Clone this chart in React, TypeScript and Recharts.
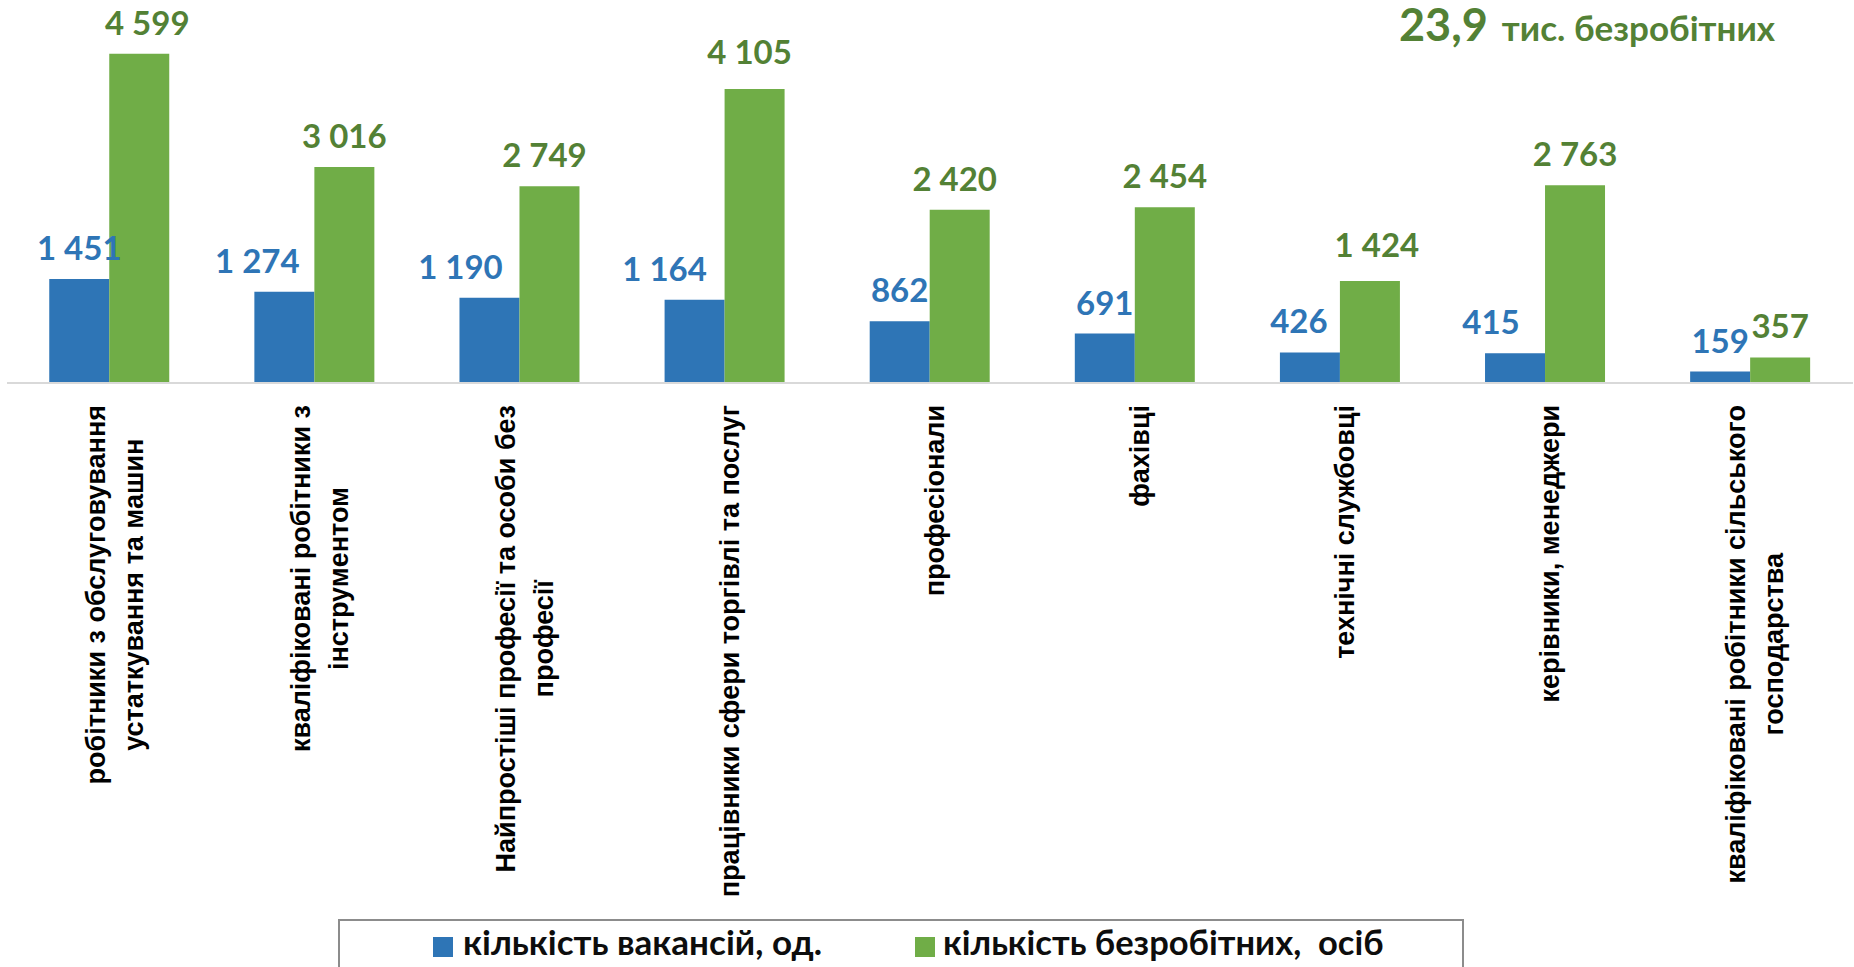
import React from "react";
import { Bar, BarChart, XAxis, YAxis } from "recharts";

// categories (line breaks as in the picture)
const categories = [
  "робітники з обслуговування\nустаткування та машин",
  "кваліфіковані робітники з\nінструментом",
  "Найпростіші професії та особи без\nпрофесії",
  "працівники сфери торгівлі та послуг",
  "професіонали",
  "фахівці",
  "технічні службовці",
  "керівники, менеджери",
  "кваліфіковані робітники сільського\nгосподарства",
];

const vacancies = [1451, 1274, 1190, 1164, 862, 691, 426, 415, 159];
const unemployed = [4599, 3016, 2749, 4105, 2420, 2454, 1424, 2763, 357];

const seriesNames = ["кількість вакансій, од.", "кількість безробітних,  осіб"];
const totalText = ["23,9", "тис. безробітних"];

// hand-placed label nudges in the original (px)
const vacLabelDx = [0, -27, -29, -30, 0, 0, -11, -24, 0];
const unempLabelDx = [8, 0, -5, -5, -5, 0, 7, 0, 0];
const unempLabelDy = [0, 0, 0, -6, 0, 0, -5, 0, 0];

const BLUE = "#2E75B6";
const GREEN = "#70AD47";
const DARK_GREEN = "#538135";
const LABEL_FONT = "Lato, 'Noto Sans', sans-serif";
const TICK_FONT = "'Liberation Sans', Arial, sans-serif";
const TICK_SIZE = 27;

const data = categories.map((name, i) => ({
  name,
  vacancies: vacancies[i],
  unemployed: unemployed[i],
}));

const fmt = (v: number) => String(v).replace(/\B(?=(\d{3})+(?!\d))/g, " ");

let ctx: CanvasRenderingContext2D | null = null;
function textWidth(s: string, font: string) {
  if (!ctx) ctx = document.createElement("canvas").getContext("2d");
  if (!ctx) return s.length * TICK_SIZE * 0.6;
  ctx.font = font;
  return ctx.measureText(s).width;
}

const CategoryTick = ({ x, y, payload }: any) => {
  const lines: string[] = String(payload.value).split("\n");
  const font = `bold ${TICK_SIZE}px "Liberation Sans"`;
  const maxW = Math.max(...lines.map((l) => textWidth(l, font)));
  const gapFromAxis = 22;
  const lineGap = 38;
  const n = lines.length;
  return (
    <g transform={`translate(${x},${y})`}>
      {lines.map((l, i) => {
        const dx = (i - (n - 1) / 2) * lineGap + 5;
        return (
          <text
            key={i}
            transform={`translate(${dx},${gapFromAxis + maxW / 2}) rotate(-90)`}
            textAnchor="middle"
            dominantBaseline="central"
            fontFamily={TICK_FONT}
            fontWeight="bold"
            fontSize={TICK_SIZE}
            fill="#000"
          >
            {l}
          </text>
        );
      })}
    </g>
  );
};

const valueLabel = (color: string, dxs: number[], dys?: number[]) => (props: any) => {
  const { x, y, width, value, index } = props;
  const dx = dxs[index] || 0;
  const dy = dys ? dys[index] || 0 : 0;
  return (
    <text
      x={x + width / 2 + dx}
      y={y - 19 + dy}
      textAnchor="middle"
      fontFamily={LABEL_FONT}
      fontWeight="bold"
      fontSize={33}
      fill={color}
    >
      {fmt(value)}
    </text>
  );
};

export default function App() {
  return (
    <div
      style={{
        position: "absolute",
        left: 0,
        top: 0,
        width: 1854,
        height: 967,
        overflow: "hidden",
        background: "#fff",
      }}
    >
      <BarChart
        width={1854}
        height={967}
        data={data}
        margin={{ top: 25, right: 1, left: 7, bottom: 0 }}
        barCategoryGap="20.6%"
        barGap={0}
      >
        <XAxis
          dataKey="name"
          interval={0}
          height={584}
          tickLine={false}
          tickSize={0}
          tickMargin={0}
          axisLine={{ stroke: "#D9D9D9", strokeWidth: 2 }}
          tick={<CategoryTick />}
        />
        <YAxis hide domain={[0, 5000]} />
        <Bar
          dataKey="vacancies"
          fill={BLUE}
          isAnimationActive={false}
          label={valueLabel(BLUE, vacLabelDx)}
        />
        <Bar
          dataKey="unemployed"
          fill={GREEN}
          isAnimationActive={false}
          label={valueLabel(DARK_GREEN, unempLabelDx, unempLabelDy)}
        />
      </BarChart>

      <svg
        width={1854}
        height={967}
        style={{ position: "absolute", left: 0, top: 0, pointerEvents: "none" }}
      >
        {/* total in the top right corner */}
        <text x={1399} y={41} fontFamily={LABEL_FONT} fontWeight="bold" fill={DARK_GREEN}>
          <tspan fontSize={45}>{totalText[0]}</tspan>
          <tspan fontSize={35} dx={14}>
            {totalText[1]}
          </tspan>
        </text>

        {/* legend */}
        <rect x={339} y={920} width={1124} height={60} fill="#fff" stroke="#8C8C8C" strokeWidth={2} />
        <rect x={433} y={937} width={20} height={20} fill={BLUE} />
        <text x={463} y={955} fontFamily={LABEL_FONT} fontWeight="bold" fontSize={35} fill="#0D0D0D">
          {seriesNames[0]}
        </text>
        <rect x={915} y={937} width={20} height={20} fill={GREEN} />
        <text x={943} y={955} fontFamily={LABEL_FONT} fontWeight="bold" fontSize={34.5} fill="#0D0D0D" style={{ whiteSpace: "pre" }}>
          {seriesNames[1]}
        </text>
      </svg>
    </div>
  );
}
